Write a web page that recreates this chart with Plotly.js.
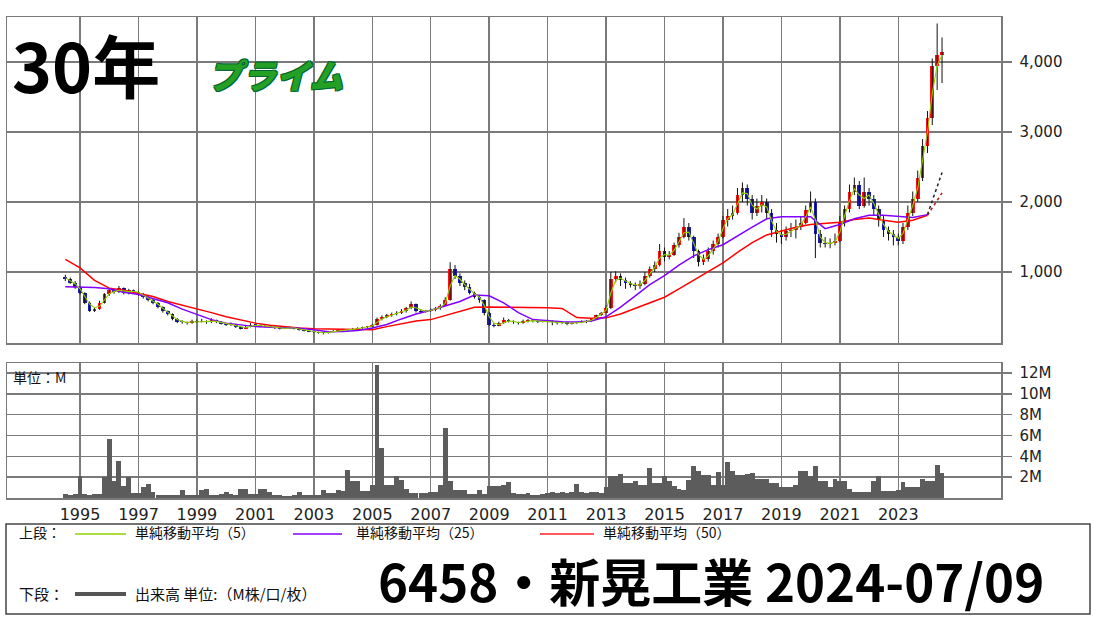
<!DOCTYPE html>
<html><head><meta charset="utf-8">
<script src="https://cdn.plot.ly/plotly-3.0.1.min.js"></script>
<style>html,body{margin:0;padding:0;background:#fff}#chart{width:1100px;height:618px}</style>
</head><body><div id="chart"></div>
<script>
// ---- Data (bi-monthly candles, Jul 1994 .. Jul 2024) ----
const openP = [
 930,900,850,
 780,700,560,450,470,560,
 680,740,720,770,700,740,
 720,690,640,600,560,500,
 440,400,330,290,280,270,
 300,290,300,280,310,290,
 260,240,250,210,190,220,
 250,240,220,230,210,200,
 190,200,210,190,170,160,
 150,140,130,125,150,160,
 170,180,170,190,200,210,
 220,240,330,360,380,400,
 420,440,480,540,450,430,
 440,460,480,520,600,1050,
 950,850,780,700,650,600,
 420,250,230,270,320,300,
 280,270,300,310,300,290,
 290,300,280,270,280,260,
 270,280,290,300,330,380,
 420,480,900,950,880,840,
 820,800,830,950,1050,1100,
 1300,1220,1250,1380,1500,1650,
 1500,1300,1150,1180,1300,1400,
 1500,1750,1800,1850,2100,2200,
 2050,1850,1950,2000,1850,1600,
 1550,1500,1580,1600,1640,1700,
 1880,2000,1550,1420,1400,1420,
 1450,1700,1900,2150,2250,1950,
 2150,2050,1900,1750,1600,1550,
 1500,1450,1650,1850,2050,2350,
 2800,3200,3950,4100];
const highP = [
 960,920,870,
 800,710,580,490,590,700,
 770,760,800,780,760,750,
 730,700,660,620,570,510,
 450,410,340,310,290,320,
 320,330,310,340,320,300,
 270,280,260,220,240,270,
 260,250,250,240,220,210,
 215,225,215,195,180,165,
 155,145,140,160,170,180,
 190,185,200,210,220,230,
 260,350,380,400,420,440,
 470,500,580,550,470,460,
 480,500,540,640,1140,1100,
 980,880,830,720,660,610,
 430,270,290,350,330,310,
 290,320,330,320,310,310,
 320,310,290,300,290,280,
 290,310,310,340,390,430,
 520,1000,1010,980,920,870,
 850,880,1000,1080,1150,1400,
 1350,1300,1420,1560,1770,1700,
 1520,1320,1250,1350,1450,1550,
 1800,1900,1950,2200,2280,2250,
 2100,2050,2100,2050,1900,1700,
 1600,1650,1700,1750,1800,1950,
 2150,2050,1600,1500,1480,1550,
 1800,1950,2250,2350,2300,2350,
 2200,2100,1950,1800,1650,1600,
 1550,1700,1950,2150,2450,2900,
 3300,4050,4550,4350];
const lowP = [
 870,830,760,
 680,540,430,430,460,550,
 660,690,700,680,680,690,
 660,620,580,540,480,420,
 380,310,270,260,250,260,
 270,280,260,270,270,250,
 230,230,200,180,185,210,
 230,210,210,200,185,180,
 185,195,180,160,150,140,
 130,120,110,120,140,150,
 160,160,165,180,190,200,
 210,235,310,340,360,380,
 400,420,470,420,410,420,
 430,440,460,510,590,900,
 800,740,680,620,560,380,
 230,210,225,260,280,260,
 250,260,280,280,270,280,
 280,240,250,260,240,250,
 260,270,270,290,320,370,
 410,470,850,800,760,780,
 740,760,810,920,1000,1080,
 1150,1180,1230,1350,1480,1450,
 1200,1080,1100,1150,1250,1350,
 1480,1650,1750,1820,2000,1950,
 1750,1800,1850,1750,1500,1420,
 1400,1450,1500,1480,1600,1680,
 1850,1200,1350,1350,1340,1380,
 1430,1650,1850,2100,1900,1920,
 1950,1800,1650,1500,1450,1380,
 1380,1400,1600,1800,2000,2300,
 2700,3100,3600,3700];
const closeP = [
 900,850,780,
 700,560,450,470,560,680,
 740,720,770,700,740,720,
 690,640,600,560,500,440,
 400,330,290,280,270,300,
 290,300,280,310,290,260,
 240,250,210,190,220,250,
 240,220,230,210,200,190,
 200,210,190,170,160,150,
 140,130,125,150,160,170,
 180,170,190,200,210,220,
 240,330,360,380,400,420,
 440,480,540,450,430,440,
 460,480,520,600,1050,950,
 850,780,700,650,600,420,
 250,230,270,320,300,280,
 270,300,310,300,290,290,
 300,280,270,280,260,270,
 280,290,300,330,380,420,
 480,900,950,880,840,820,
 800,830,950,1050,1100,1300,
 1220,1250,1380,1500,1650,1500,
 1300,1150,1180,1300,1400,1500,
 1750,1800,1850,2100,2200,2050,
 1850,1950,2000,1850,1600,1550,
 1500,1580,1600,1640,1700,1880,
 2000,1550,1420,1400,1420,1450,
 1700,1900,2150,2250,1950,2150,
 2050,1900,1750,1600,1550,1500,
 1450,1650,1850,2050,2350,2800,
 3200,3950,4100,4150];
const ma5 = [
 920,880,830,
 760,650,540,490,510,600,
 690,720,740,730,720,725,
 710,670,630,590,540,480,
 430,370,320,295,280,285,
 290,295,290,295,295,280,
 260,250,230,210,205,225,
 240,235,225,220,210,200,
 195,200,200,185,170,160,
 150,140,132,138,150,162,
 172,175,180,192,202,212,
 228,280,330,360,385,405,
 425,455,500,490,460,440,
 450,470,495,550,800,950,
 900,820,750,690,640,520,
 360,270,250,280,300,295,
 280,285,300,305,298,292,
 294,290,278,275,272,268,
 272,282,292,310,350,395,
 450,700,880,910,870,835,
 815,815,880,980,1070,1200,
 1250,1240,1310,1430,1560,1570,
 1420,1250,1180,1230,1330,1440,
 1620,1760,1820,1970,2130,2120,
 1950,1900,1960,1930,1730,1580,
 1530,1540,1580,1620,1670,1790,
 1930,1750,1500,1420,1410,1430,
 1570,1800,2020,2190,2100,2050,
 2100,1980,1830,1680,1580,1530,
 1480,1550,1740,1950,2200,2580,
 3000,3550,3950,4100];
const volumeM = [
 0.4,0.3,0.4,
 2.1,0.4,0.3,0.4,0.4,2.0,
 5.7,1.6,3.6,1.2,2.0,0.5,
 0.5,1.1,1.3,0.6,0.3,0.3,
 0.3,0.25,0.3,0.75,0.3,0.3,
 0.3,0.75,0.9,0.3,0.3,0.4,
 0.55,0.4,0.3,0.9,0.9,0.4,
 0.4,0.9,0.9,0.55,0.3,0.25,
 0.2,0.2,0.25,0.55,0.3,0.3,
 0.3,0.3,0.75,0.5,0.5,0.75,
 0.7,2.7,1.6,1.65,0.65,0.65,
 1.25,12.8,4.8,1.25,1.25,2.1,
 1.75,0.9,0.5,0.5,0.5,0.5,
 0.55,0.55,1.25,6.7,1.6,0.75,
 0.75,0.75,0.35,0.35,0.75,0.35,
 1.15,1.15,1.15,1.25,1.5,0.5,
 0.4,0.35,0.5,0.3,0.3,0.4,
 0.5,0.55,0.5,0.55,0.5,0.55,
 1.35,0.55,0.5,0.55,0.55,0.5,
 1.1,2.15,2.15,2.3,1.4,1.4,
 1.65,1.25,1.25,2.85,1.4,1.4,
 2.15,1.65,1.2,0.9,0.75,1.75,
 3.1,2.6,2.25,2.25,1.25,2.5,
 1.25,3.45,2.6,2.25,2.25,2.3,
 2.4,1.8,1.8,1.8,1.4,1.4,
 1.1,1.1,1.1,1.25,2.6,2.6,
 2.1,3.1,1.6,1.6,1.1,1.85,
 1.6,1.6,0.9,0.55,0.55,0.55,
 0.55,1.65,2.1,0.65,0.65,0.65,
 0.75,1.5,1.1,1.1,1.1,1.8,
 1.65,1.65,3.2,2.4];
// half-yearly moving averages, Jul 1994 .. Jan 2024
const ma25 = [790,785,780,760,710,680,620,560,470,400,320,270,240,220,212,205,198,175,148,150,165,200,250,330,400,455,520,580,670,660,560,420,320,300,290,285,300,360,500,660,820,950,1100,1230,1320,1390,1520,1640,1760,1790,1790,1790,1620,1680,1760,1810,1810,1790,1780,1820];
const ma50 = [1180,1060,880,770,740,700,650,580,530,480,420,360,310,270,240,215,200,188,185,182,178,175,220,265,300,320,380,440,495,500,500,500,495,490,480,350,340,345,400,480,560,640,760,880,1000,1130,1280,1420,1530,1590,1640,1680,1700,1710,1750,1770,1740,1710,1740,1810];
const ma25Ext = [1820, 2420];
const ma50Ext = [1810, 2130];
const yearTicks = [1995,1997,1999,2001,2003,2005,2007,2009,2011,2013,2015,2017,2019,2021,2023];
const priceTicks = [1000,2000,3000,4000];
const volTicks = [2,4,6,8,10,12];

// ---- helpers ----
function monthDate(y, m){ return y + '-' + String(m).padStart(2,'0') + '-01'; }
const dates = [];
for (let i = 0; i < closeP.length; i++){ const k = 6 + 2*i; dates.push(monthDate(1994 + Math.floor(k/12), (k%12)+1)); }
const maDates = [];
for (let i = 0; i < ma25.length; i++){ const k = 6 + 6*i; maDates.push(monthDate(1994 + Math.floor(k/12), (k%12)+1)); }
const extDates = ['2024-01-01','2024-07-01'];
const DAY = 86400000;

const wx = [], wy = [];
dates.forEach((d,i)=>{ wx.push(d,d,null); wy.push(lowP[i],highP[i],null); });
const bodyBase = openP.map((o,i)=>Math.min(o,closeP[i]));
const bodyH = openP.map((o,i)=>Math.max(Math.abs(closeP[i]-o), 14));
const bodyCol = openP.map((o,i)=> closeP[i] >= o ? '#ff1010' : '#1c1cb4');

const W = 1100, H = 618;
const px = x => x / W, py = y => 1 - y / H;
const GRID = '#7a7a7a';

const traces = [
 {type:'scatter', mode:'lines', x:wx, y:wy, line:{color:'#111', width:1}, xaxis:'x', yaxis:'y', hoverinfo:'skip'},
 {type:'bar', x:dates, y:bodyH, base:bodyBase, width:dates.map(()=>46*DAY), marker:{color:bodyCol, line:{width:0}}, xaxis:'x', yaxis:'y'},
 {type:'scatter', mode:'lines', x:maDates, y:ma50, line:{color:'#ff0000', width:1.5}, xaxis:'x', yaxis:'y'},
 {type:'scatter', mode:'lines', x:maDates, y:ma25, line:{color:'#8000ff', width:1.5}, xaxis:'x', yaxis:'y'},
 {type:'scatter', mode:'lines', x:extDates, y:ma50Ext, line:{color:'#c02020', width:1.5, dash:'dot'}, xaxis:'x', yaxis:'y'},
 {type:'scatter', mode:'lines', x:extDates, y:ma25Ext, line:{color:'#222', width:1.5, dash:'dot'}, xaxis:'x', yaxis:'y'},
 {type:'scatter', mode:'lines', x:dates, y:ma5, line:{color:'#90d000', width:1.1}, xaxis:'x', yaxis:'y'},
 {type:'bar', x:dates, y:volumeM, width:dates.map(()=>61*DAY), marker:{color:'#5c5c5c', line:{width:0}}, xaxis:'x2', yaxis:'y2'}
];

const xRange = ['1992-07-02','2026-07-08'];
const yearVals = yearTicks.map(y=>y+'-01-01');
const axisCommon = {showgrid:true, gridcolor:GRID, gridwidth:1.5, showline:true, mirror:true, linecolor:GRID, linewidth:1.5, zeroline:false, fixedrange:true};

const ann = (x,y,text,size,extra) => Object.assign({xref:'paper', yref:'paper', x:px(x), y:py(y), text:text, showarrow:false, xanchor:'left', yanchor:'middle', font:{family:'Noto Sans CJK JP', size:size, color:'#111'}}, extra||{});

const layout = {
 width:W, height:H, margin:{l:0,r:0,t:0,b:0}, paper_bgcolor:'#fff', plot_bgcolor:'#fff', showlegend:false, barmode:'overlay', bargap:0,
 xaxis: Object.assign({}, axisCommon, {domain:[px(7),px(1001)], anchor:'y', type:'date', range:xRange, tickvals:yearVals, showticklabels:false, ticks:''}),
 yaxis: Object.assign({}, axisCommon, {domain:[py(343),py(17)], anchor:'x', range:[-14,4643], side:'right', tickvals:priceTicks, tickformat:',d', ticks:'outside', ticklen:9, tickwidth:1.5, tickcolor:GRID, ticklabelstandoff:5, tickfont:{family:'DejaVu Sans', size:15, color:'#222'}}),
 xaxis2: Object.assign({}, axisCommon, {domain:[px(7),px(1001)], anchor:'y2', type:'date', range:xRange, tickvals:yearVals, ticktext:yearTicks.map(String), ticks:'', ticklabelstandoff:1, tickfont:{family:'DejaVu Sans', size:16, color:'#222'}}),
 yaxis2: Object.assign({}, axisCommon, {domain:[py(498),py(363)], anchor:'x2', range:[0,12.96], side:'right', tickvals:volTicks, ticktext:volTicks.map(v=>v+'M'), ticks:'outside', ticklen:9, tickwidth:1.5, tickcolor:GRID, ticklabelstandoff:5, tickfont:{family:'DejaVu Sans', size:15, color:'#222'}}),
 shapes: [
  {type:'rect', xref:'paper', yref:'paper', x0:px(6), x1:px(1090), y0:py(614), y1:py(524), line:{color:'#444', width:1.5}},
  {type:'line', xref:'paper', yref:'paper', x0:px(75), x1:px(126), y0:py(534), y1:py(534), line:{color:'#90d000', width:1.5}},
  {type:'line', xref:'paper', yref:'paper', x0:px(293), x1:px(342), y0:py(534), y1:py(534), line:{color:'#8000ff', width:1.5}},
  {type:'line', xref:'paper', yref:'paper', x0:px(540), x1:px(594), y0:py(534), y1:py(534), line:{color:'#ff2020', width:1.5}},
  {type:'line', xref:'paper', yref:'paper', x0:px(75), x1:px(126), y0:py(594), y1:py(594), line:{color:'#555', width:4}}
 ],
 annotations: [
  ann(17,532,'上段：',14),
  ann(133,532,'単純移動平均（5）',14),
  ann(354,532,'単純移動平均（25）',14),
  ann(601,532,'単純移動平均（50）',14),
  ann(17,593,'下段：',15),
  ann(133,593,'出来高 単位:（M株/口/枚）',15),
  ann(376,580,'6458・新晃工業 2024-07/09',51,{font:{family:'Noto Sans CJK JP', size:51, color:'#000', weight:700}}),
  ann(10,64,'30年',68,{font:{family:'Noto Sans CJK JP', size:68, color:'#000', weight:700}}),
  ann(206,74,'プライム',34,{font:{family:'Noto Sans CJK JP', size:34, color:'#24a024', weight:900, style:'italic', shadow:'1px 1px 0 #063, -1px -1px 0 #063, 1px -1px 0 #063, -1px 1px 0 #063'}}),
  ann(11,377,'単位：M',14)
 ]
};
Plotly.newPlot('chart', traces, layout, {displayModeBar:false, staticPlot:true});
</script></body></html>
